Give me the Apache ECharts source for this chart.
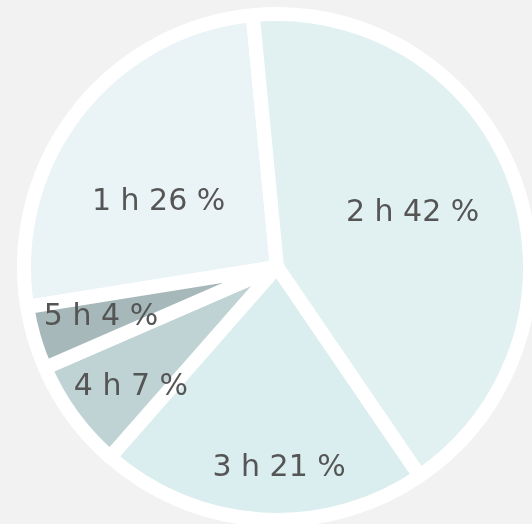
<!DOCTYPE html>
<html><head><meta charset="utf-8">
<script src="https://cdn.jsdelivr.net/npm/echarts@6/dist/echarts.min.js"></script>
<style>html,body{margin:0;padding:0;background:#f2f2f2}#c{width:532px;height:524px}</style>
</head><body><div id="c"></div>
<script>
// Data
const categories = ['1 h', '2 h', '3 h', '4 h', '5 h'];
const values = [26, 42, 21, 7, 4];
// Styles
const colors = ['#eaf4f6', '#e1f0f1', '#daedef', '#bfd3d5', '#a6b8b9'];
const labelRadiusFrac = [0.534, 0.577, 0.794, 0.747, 0.723];
const labelAngleShift = [8.9, 1.8, 4.1, 3.3, -0.5];

const CX = 277, CY = 267, R = 253, START = 189.1;
const total = values.reduce((a, b) => a + b, 0);
const mids = [];
let acc = 0;
values.forEach(v => { const span = v / total * 360; mids.push(START - acc - span / 2); acc += span; });

const chart = echarts.init(document.getElementById('c'), null, {renderer: 'canvas'});
chart.setOption({
  backgroundColor: '#f2f2f2',
  animation: false,
  series: [{
    type: 'pie',
    center: [CX, CY],
    radius: R,
    startAngle: START,
    clockwise: true,
    avoidLabelOverlap: false,
    data: categories.map((c, i) => ({name: c, value: values[i], itemStyle: {color: colors[i]}})),
    itemStyle: {borderColor: '#ffffff', borderWidth: 14, borderJoin: 'round'},
    label: {
      show: true, position: 'inside', formatter: '{b} {c} %',
      color: '#555555', fontFamily: 'DejaVu Sans', fontSize: 30
    },
    labelLine: {show: false},
    emphasis: {disabled: true},
    labelLayout: p => {
      const i = p.dataIndex;
      const a = (mids[i] + labelAngleShift[i]) * Math.PI / 180;
      const r = R * labelRadiusFrac[i];
      return {x: CX + r * Math.cos(a), y: CY - r * Math.sin(a)};
    }
  }]
});
</script></body></html>
